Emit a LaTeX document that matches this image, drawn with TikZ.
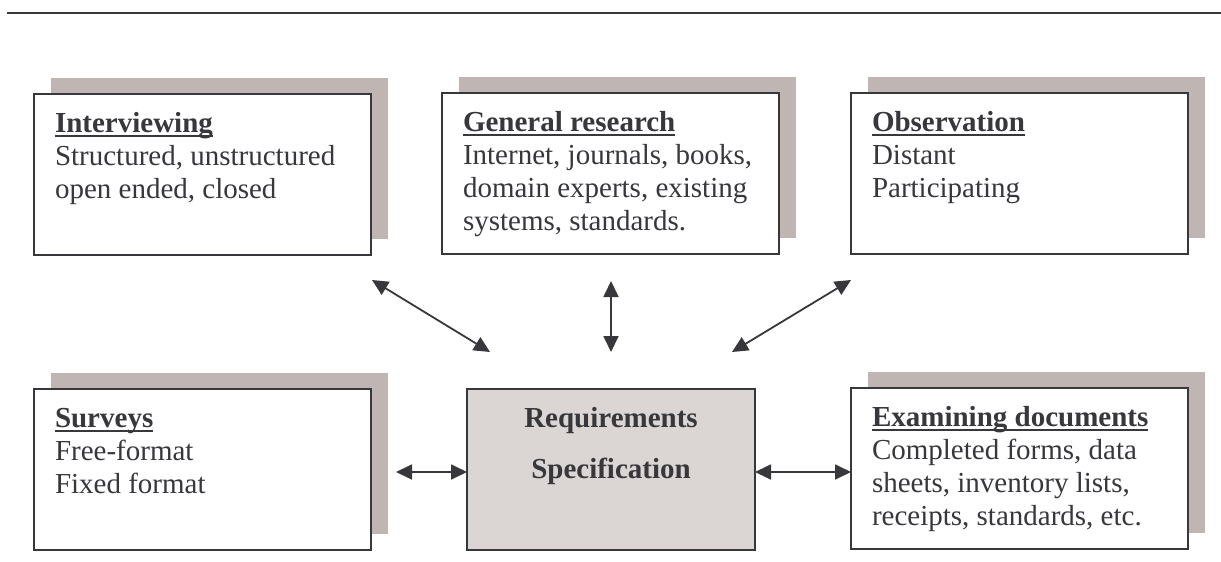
\documentclass[tikz,border=0pt]{standalone}
\usepackage{fontspec}
\setmainfont{Liberation Serif}
\usetikzlibrary{arrows.meta,shadows,calc}

\definecolor{ink}{RGB}{55,55,60}
\definecolor{shade}{RGB}{191,181,178}
\definecolor{corefill}{RGB}{219,213,211}

% bold heading with a flat underline close to the baseline
\newcommand\boxtitle[1]{\setbox0\hbox{\bfseries #1}\rlap{\rule[-5pt]{\wd0}{2pt}}\box0}
\newcommand\firstline{\rule{0pt}{24pt}}

\begin{document}
\begin{tikzpicture}[x=1pt,y=-1pt,
  every node/.style={inner sep=0pt, outer sep=0pt},
  txt/.style={font=\fontsize{29}{33}\selectfont, text=ink, align=left, anchor=north west},
  framebox/.style={draw=ink, line width=2pt, anchor=north west,
    minimum width=337pt, minimum height=161pt,
    general shadow={fill=shade, draw=none, shadow xshift=17pt, shadow yshift=16pt}},
  link/.style={draw=ink, line width=1.8pt,
    {Triangle[length=16pt,width=15pt]}-{Triangle[length=16pt,width=15pt]}}]
\useasboundingbox (0,0) rectangle (1221,562);

% rule across the top
\coordinate (ruleL) at (7,13);
\coordinate (ruleR) at (1221,13);
\draw[ink, line width=2.2pt] (ruleL) -- (ruleR);

% upper row of technique boxes
\node[framebox, fill=white] (int) at (34,94) {};
\node[txt] (intT) at ($(int.north west)+(21,14)$)
  {\firstline\boxtitle{Interviewing}\\Structured, unstructured\\open ended, closed};

\node[framebox, fill=white] (gen) at (442,93) {};
\node[txt] (genT) at ($(gen.north west)+(21,14)$)
  {\firstline\boxtitle{General research}\\Internet, journals, books,\\domain experts, existing\\systems, standards.};

\node[framebox, fill=white] (obs) at (851,93) {};
\node[txt] (obsT) at ($(obs.north west)+(21,14)$)
  {\firstline\boxtitle{Observation}\\Distant\\Participating};

% lower row
\node[framebox, fill=white] (sur) at (34,389) {};
\node[txt] (surT) at ($(sur.north west)+(21,14)$)
  {\firstline\boxtitle{Surveys}\\Free-format\\Fixed format};

\node[framebox, fill=white] (exa) at (851,388) {};
\node[txt] (exaT) at ($(exa.north west)+(21,14)$)
  {\firstline\boxtitle{Examining documents}\\Completed forms, data\\sheets, inventory lists,\\receipts, standards, etc.};

% central box
\node[draw=ink, line width=2pt, fill=corefill, anchor=north west,
  minimum width=288pt, minimum height=161pt] (req) at (467,389) {};
\node[font=\fontsize{29}{33}\selectfont\bfseries, text=ink, align=center, anchor=north]
  (reqT) at ($(req.north)+(0,14)$) {\firstline Requirements\\[18pt]Specification};

% arrow end points
\coordinate (aL1) at (372,280);
\coordinate (aL2) at (490,352);
\coordinate (aM1) at (611,281);
\coordinate (aM2) at (611,352);
\coordinate (aR1) at (851,280);
\coordinate (aR2) at (732,352);
\coordinate (hL) at (396,472);
\coordinate (hR) at (851,472);

\draw[link] (aL1) -- (aL2);
\draw[link] (aM1) -- (aM2);
\draw[link] (aR1) -- (aR2);
\draw[link] (hL) -- (req.west |- hL);
\draw[link] (req.east |- hR) -- (exa.west |- hR);
\end{tikzpicture}
\end{document}
